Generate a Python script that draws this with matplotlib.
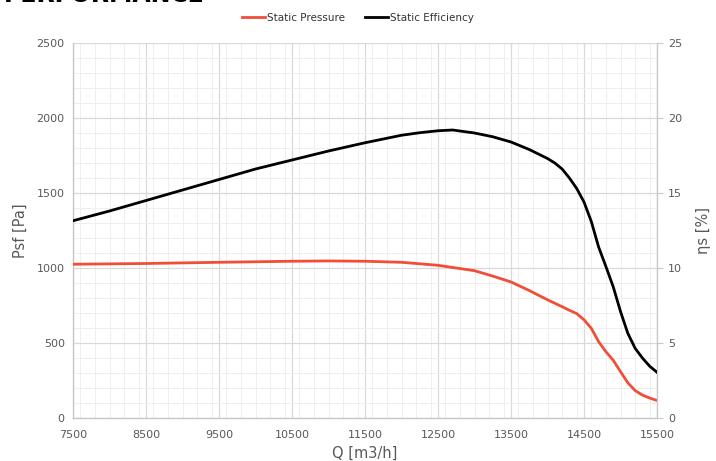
import matplotlib
matplotlib.use("Agg")
import matplotlib.pyplot as plt
from matplotlib.ticker import MultipleLocator

plt.rcParams['font.family'] = ['DejaVu Sans']

# Data
q_pressure = [7500, 8500, 9500, 10500, 11000, 11500, 12000, 12500, 13000, 13250,
              13500, 13750, 14000, 14200, 14300, 14400, 14500, 14600, 14700, 14800,
              14900, 15000, 15100, 15200, 15300, 15400, 15500]
static_pressure = [1025, 1030, 1038, 1045, 1047, 1045, 1038, 1018, 982, 946,
                   907, 850, 788, 742, 718, 696, 655, 598, 509, 442,
                   385, 309, 235, 183, 153, 133, 117]

q_eff = [7500, 8000, 8500, 9000, 9500, 10000, 10500, 11000, 11500, 12000,
         12250, 12500, 12700, 13000, 13250, 13500, 13750, 14000, 14100, 14200,
         14300, 14400, 14500, 14600, 14700, 14800, 14900, 15000, 15100, 15200,
         15300, 15400, 15500]
static_eff = [13.15, 13.8, 14.5, 15.2, 15.9, 16.6, 17.2, 17.8, 18.35, 18.85,
              19.02, 19.15, 19.2, 19.0, 18.75, 18.4, 17.9, 17.3, 17.0, 16.6,
              16.0, 15.3, 14.4, 13.1, 11.4, 10.1, 8.75, 7.1, 5.65, 4.65,
              4.0, 3.45, 3.05]

x_ticks = [7500, 8500, 9500, 10500, 11500, 12500, 13500, 14500, 15500]

RED = '#f04e37'
GRAY_TXT = '#595959'

fig = plt.figure(figsize=(7.16, 4.61), dpi=100)
ax = fig.add_axes([0.102, 0.0933, 0.8156, 0.8134])
ax2 = ax.twinx()

ax.set_xlim(7500, 15500)
ax.set_ylim(0, 2500)
ax2.set_ylim(0, 25)

ax.set_xticks(x_ticks)
ax.xaxis.set_minor_locator(MultipleLocator(200))
ax.set_yticks([0, 500, 1000, 1500, 2000, 2500])
ax.yaxis.set_minor_locator(MultipleLocator(100))
ax2.set_yticks([0, 5, 10, 15, 20, 25])

ax.grid(which='major', color='#d9d9d9', linewidth=0.9)
ax.grid(which='minor', color='#efefef', linewidth=0.7)
ax.set_axisbelow(True)

lp, = ax.plot(q_pressure, static_pressure, color=RED, linewidth=2.0,
              solid_joinstyle='round', label='Static Pressure', zorder=3)
le, = ax2.plot(q_eff, static_eff, color='black', linewidth=2.0,
               solid_joinstyle='round', label='Static Efficiency', zorder=3)

for a in (ax, ax2):
    for s in a.spines.values():
        s.set_visible(False)
ax.spines['left'].set_visible(True)
ax.spines['bottom'].set_visible(True)
ax2.spines['right'].set_visible(True)
for s in (ax.spines['left'], ax.spines['bottom'], ax2.spines['right']):
    s.set_color('#c8c8c8')
    s.set_linewidth(1.0)

ax.tick_params(axis='both', which='both', length=0, labelsize=8, labelcolor=GRAY_TXT)
ax.tick_params(axis='x', pad=9)
ax.tick_params(axis='y', pad=6)
ax2.tick_params(axis='y', which='major', length=4, color='#c8c8c8', labelsize=8,
                labelcolor=GRAY_TXT, pad=4)

ax.set_xlabel('Q [m3/h]', fontsize=10.5, color=GRAY_TXT, labelpad=4)
ax.set_ylabel('Psf [Pa]', fontsize=10.5, color=GRAY_TXT, labelpad=6)
ax2.set_ylabel('ηs [%]', fontsize=10.5, color=GRAY_TXT, rotation=90, labelpad=10)

fig.legend(handles=[lp, le], loc='center', bbox_to_anchor=(0.5, 0.962), ncol=2,
           frameon=False, fontsize=7.5, handlelength=2.2, handletextpad=0.2,
           columnspacing=2.0, labelcolor='#333333')

fig.text(0.005, 0.995, 'PERFORMANCE', fontsize=17, fontweight='bold', color='black',
         ha='left', va='baseline')

fig.savefig('out.png', dpi=100)
